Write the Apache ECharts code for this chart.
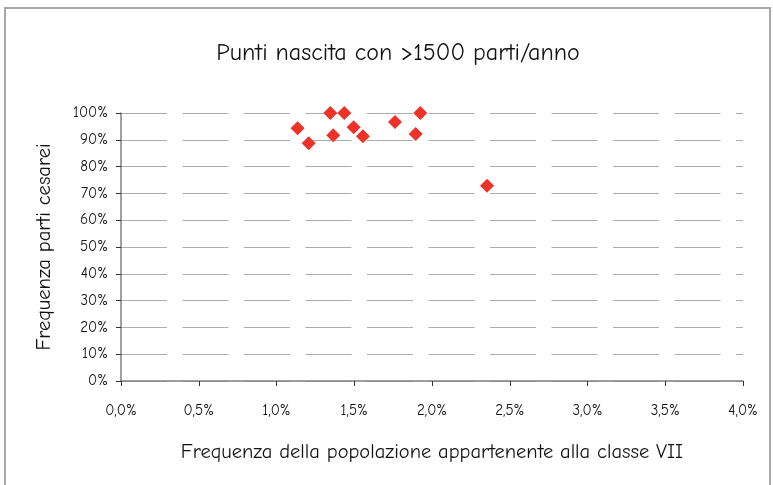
<!DOCTYPE html>
<html>
<head>
<meta charset="utf-8">
<script src="https://cdn.jsdelivr.net/npm/echarts@6/dist/echarts.min.js"></script>
<style>
  html, body { margin: 0; padding: 0; background: #ffffff; }
  #chart { width: 773px; height: 485px; }
</style>
</head>
<body>
<div id="chart"></div>
<script>
// Share of population in class VII (%) for each birth centre
const classeVII = [1.136, 1.207, 1.346, 1.436, 1.365, 1.496, 1.556, 1.762, 1.925, 1.895, 2.354];
// Share of caesarean deliveries (%) for the same centres
const cesarei = [94.3, 88.7, 100, 100, 91.7, 94.7, 91.3, 96.6, 100, 92.2, 72.9];

const titleText = 'Punti nascita con >1500 parti/anno';
const xName = 'Frequenza della popolazione appartenente alla classe VII';
const yName = 'Frequenza parti cesarei';

const FONT = "'Comic Sans MS', 'Comic Neue', 'Open Sans', sans-serif";

const points = classeVII.map((x, i) => [x, cesarei[i]]);

const chart = echarts.init(document.getElementById('chart'), null, { renderer: 'canvas' });

chart.setOption({
  backgroundColor: '#ffffff',
  animation: false,
  title: {
    text: titleText,
    left: 393,
    textAlign: 'center',
    top: 36,
    textStyle: { fontFamily: FONT, fontSize: 24, fontWeight: 'normal', color: '#111' }
  },
  graphic: [{
    type: 'rect',
    shape: { x: 5, y: 8, width: 765, height: 490 },
    style: { fill: 'none', stroke: '#a8a8a8', lineWidth: 2 },
    silent: true
  }],
  grid: { left: 121, right: 30, top: 113, bottom: 104 },
  xAxis: {
    type: 'value',
    min: 0, max: 4, interval: 0.5,
    name: xName,
    nameLocation: 'middle',
    nameGap: 61,
    nameTextStyle: { fontFamily: FONT, fontSize: 20.5, color: '#111' },
    axisLine: { lineStyle: { color: '#808080', width: 1.5 } },
    axisTick: { show: true, length: 5, inside: false, lineStyle: { color: '#333' } },
    axisLabel: {
      fontFamily: FONT, fontSize: 15, color: '#111', margin: 22,
      formatter: v => v.toFixed(1).replace('.', ',') + '%'
    },
    splitLine: { show: false }
  },
  yAxis: {
    type: 'value',
    min: 0, max: 100, interval: 10,
    name: yName,
    nameLocation: 'middle',
    nameGap: 66,
    nameTextStyle: { fontFamily: FONT, fontSize: 20.5, color: '#111' },
    axisLine: { show: true, lineStyle: { color: '#808080', width: 1.5 } },
    axisTick: { show: true, length: 5, inside: false, lineStyle: { color: '#333' } },
    axisLabel: {
      fontFamily: FONT, fontSize: 15, color: '#111', margin: 13,
      formatter: v => v + '%'
    },
    splitLine: {
      show: true,
      lineStyle: { color: '#acacac', width: 1.2, type: [46, 15.5] }
    }
  },
  series: [{
    type: 'scatter',
    data: points,
    symbol: 'diamond',
    symbolSize: [14, 14],
    itemStyle: { color: '#ee3228', opacity: 1 }
  }]
});
</script>
</body>
</html>
